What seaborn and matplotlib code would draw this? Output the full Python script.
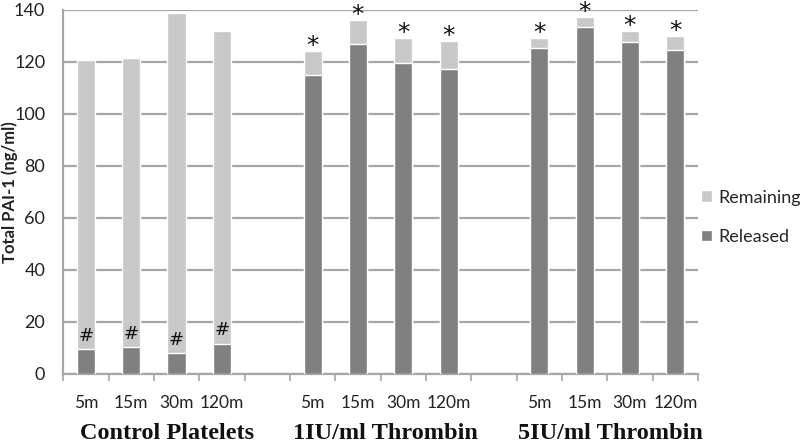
import matplotlib
matplotlib.use("Agg")
import matplotlib.pyplot as plt
import seaborn as sns
import pandas as pd
import numpy as np
from matplotlib.patches import Patch

# ---- data ----
groups = ["Control Platelets", "1IU/ml Thrombin", "5IU/ml Thrombin"]
times = ["5m", "15m", "30m", "120m"]
released_control = [9.5, 10.3, 8.0, 11.6]
released_1iu = [115.1, 127.0, 119.7, 117.3]
released_5iu = [125.4, 133.4, 127.8, 124.7]
total_control = [120.7, 121.3, 138.9, 131.9]
total_1iu = [124.3, 135.9, 129.3, 128.0]
total_5iu = [129.3, 137.4, 131.7, 130.1]
marks = ["#", "*", "*"]

released_all = [released_control, released_1iu, released_5iu]
total_all = [total_control, total_1iu, total_5iu]

rows = []
order = []
for gi, g in enumerate(groups):
    for ti, t in enumerate(times):
        key = f"{g}|{t}"
        order.append(key)
        rows.append({"slot": key, "group": g, "time": t,
                     "Released": released_all[gi][ti],
                     "Total": total_all[gi][ti],
                     "Remaining": total_all[gi][ti] - released_all[gi][ti],
                     "mark": marks[gi]})
    if gi < len(groups) - 1:
        order.append(f"gap{gi}")
df = pd.DataFrame(rows)

c_rel = "#808080"
c_rem = "#c8c8c8"
grid_c = "#a6a6a6"

sns.set_theme(style="white")
plt.rcParams["font.family"] = ["Lato", "DejaVu Sans"]

fig = plt.figure(figsize=(8, 4.47), dpi=100)
ax = fig.add_axes([0.079, 0.164, 0.7935, 0.814])

sns.barplot(data=df, x="slot", y="Total", order=order, color=c_rem,
            width=0.4, saturation=1, ax=ax, errorbar=None, zorder=2)
sns.barplot(data=df, x="slot", y="Released", order=order, color=c_rel,
            width=0.4, saturation=1, ax=ax, errorbar=None, zorder=3)

ax.set_ylim(0, 140)
ax.set_xlim(-0.5, len(order) - 0.5)
ax.set_yticks(np.arange(0, 141, 20))
ax.yaxis.grid(True, color=grid_c, linewidth=1.6, zorder=0)
ax.set_axisbelow(True)
for s in ["top", "right"]:
    ax.spines[s].set_visible(False)
for s in ["left", "bottom"]:
    ax.spines[s].set_color(grid_c)
    ax.spines[s].set_linewidth(1.6)

# category ticks at slot boundaries, labels at centers
ax.set_xticks(np.arange(-0.5, len(order), 1.0))
ax.set_xticklabels([])
ax.tick_params(axis="x", which="major", length=5, width=1.2, color=grid_c, direction="out")
ax.tick_params(axis="y", which="major", length=4, width=1.0, color=grid_c, direction="out",
               labelsize=13, pad=9, labelcolor="#222222")
ax.tick_params(axis="x", bottom=True)
pos = [i for i, k in enumerate(order) if not k.startswith("gap")]
ax.set_xticks(pos, minor=True)
ax.set_xticklabels([order[i].split("|")[1] for i in pos], minor=True)
ax.tick_params(axis="x", which="minor", length=0, pad=15, labelsize=12.5, labelcolor="#222222")

ax.set_xlabel("")
ax.set_ylabel("Total PAI-1 (ng/ml)", fontsize=12, fontweight="bold", color="#222222",
              va="center")
ax.yaxis.set_label_coords(-0.084, 0.5)

# significance marks
for i, k in enumerate(order):
    if k.startswith("gap"):
        continue
    r = df[df["slot"] == k].iloc[0]
    if r["mark"] == "*":
        ax.annotate("*", (i, r["Total"]), xytext=(0, -5), textcoords="offset points",
                    ha="center", va="bottom", fontsize=18, color="#111111",
                    family=["DejaVu Sans"], annotation_clip=False, clip_on=False)
    else:
        ax.annotate("#", (i, r["Released"]), xytext=(0, 3), textcoords="offset points",
                    ha="center", va="bottom", fontsize=13, color="#111111",
                    family=["DejaVu Sans"], annotation_clip=False, clip_on=False)

# group labels
group_x = [1.8, 6.6, 11.57]
for g, gx in zip(groups, group_x):
    ax.text(gx, -0.165, g, transform=ax.get_xaxis_transform(), ha="center", va="center",
            fontsize=17.5, fontweight="bold", family=["Liberation Serif"], color="#111111")

handles = [Patch(facecolor=c_rem, label="Remaining"), Patch(facecolor=c_rel, label="Released")]
fig.legend(handles=handles, loc="center left", bbox_to_anchor=(0.876, 0.514), frameon=False,
           fontsize=13, handlelength=0.6, handleheight=0.6, handletextpad=0.4, labelspacing=1.3,
           borderaxespad=0, borderpad=0)

fig.savefig("out.png", dpi=100)
